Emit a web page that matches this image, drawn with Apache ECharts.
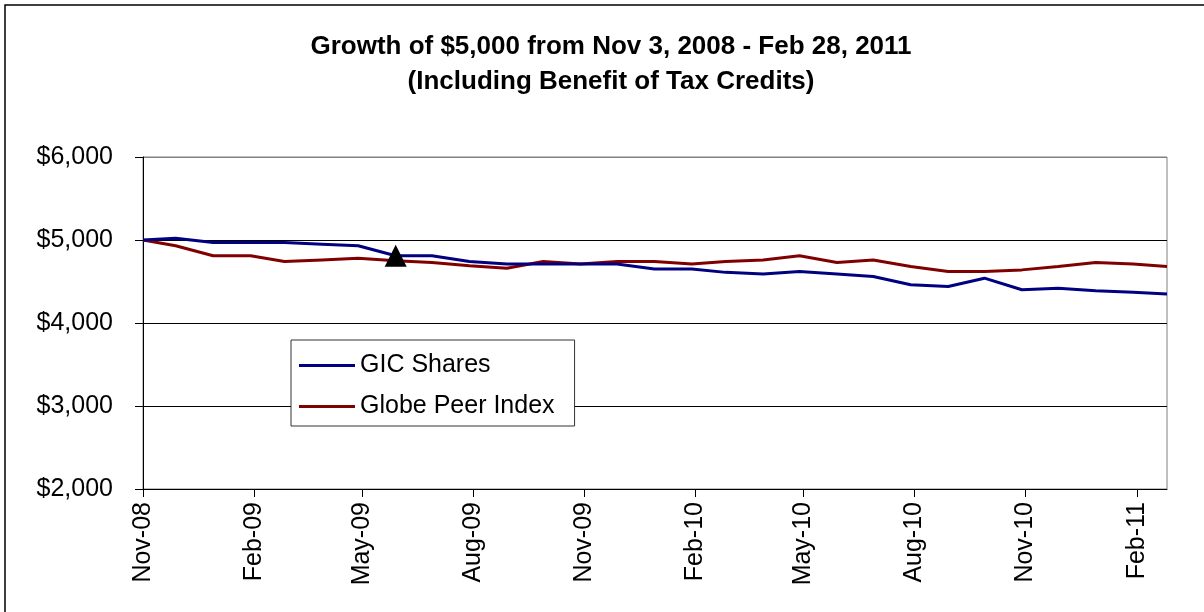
<!DOCTYPE html>
<html>
<head>
<meta charset="utf-8">
<script src="https://cdn.jsdelivr.net/npm/echarts@6/dist/echarts.min.js"></script>
<style>
  html, body { margin: 0; padding: 0; background: #fff; }
  #main { width: 1204px; height: 612px; }
</style>
</head>
<body>
<div id="main"></div>
<script>
// month-end valuation dates
const dates = ['2008-11-03', '2008-11-30', '2008-12-31', '2009-01-31', '2009-02-28', '2009-03-31',
  '2009-04-30', '2009-05-31', '2009-06-30', '2009-07-31', '2009-08-31', '2009-09-30', '2009-10-31',
  '2009-11-30', '2009-12-31', '2010-01-31', '2010-02-28', '2010-03-31', '2010-04-30', '2010-05-31',
  '2010-06-30', '2010-07-31', '2010-08-31', '2010-09-30', '2010-10-31', '2010-11-30', '2010-12-31',
  '2011-01-31', '2011-02-28'];
const gicShares = [5000, 5020, 4970, 4970, 4970, 4950, 4930, 4810, 4810, 4740, 4710, 4710, 4710,
  4710, 4650, 4650, 4610, 4590, 4620, 4590, 4560, 4460, 4440, 4540, 4400, 4420, 4390, 4370, 4350];
const globePeer = [5000, 4930, 4810, 4810, 4740, 4760, 4780, 4750, 4730, 4690, 4660, 4740, 4710,
  4740, 4740, 4710, 4740, 4760, 4810, 4730, 4760, 4680, 4620, 4620, 4640, 4680, 4730, 4710, 4680];
// tick label dates (every 3 months)
const tickDates = ['2008-11-03', '2009-02-03', '2009-05-03', '2009-08-03', '2009-11-03',
  '2010-02-03', '2010-05-03', '2010-08-03', '2010-11-03', '2011-02-03'];
const markerIndex = 7;

const monthNames = ['Jan', 'Feb', 'Mar', 'Apr', 'May', 'Jun', 'Jul', 'Aug', 'Sep', 'Oct', 'Nov', 'Dec'];
const toTime = (s) => { const p = s.split('-'); return new Date(+p[0], +p[1] - 1, +p[2]).getTime(); };
const font = "'Liberation Sans', Arial, sans-serif";

const chart = echarts.init(document.getElementById('main'));
const option = {
  animation: false,
  title: {
    text: 'Growth of $5,000 from Nov 3, 2008 - Feb 28, 2011\n(Including Benefit of Tax Credits)',
    left: 611,
    top: 29,
    padding: 0,
    textAlign: 'center',
    textStyle: { fontFamily: font, fontSize: 26, fontWeight: 'bold', color: '#000', lineHeight: 35 }
  },
  graphic: [{
    type: 'rect',
    shape: { x: 5, y: 5, width: 1220, height: 640 },
    style: { fill: 'none', stroke: '#000', lineWidth: 1.5 },
    silent: true
  }],
  legend: {
    orient: 'vertical',
    left: 291,
    top: 340,
    padding: [13, 20, 7, 8],
    itemGap: 16,
    itemWidth: 56,
    itemHeight: 3,
    backgroundColor: '#fff',
    borderColor: '#333',
    borderWidth: 1,
    borderRadius: 0,
    textStyle: { fontFamily: font, fontSize: 25, color: '#000', lineHeight: 25 },
    data: [{ name: 'GIC Shares', icon: 'rect' }, { name: 'Globe Peer Index', icon: 'rect' }]
  },
  grid: { left: 143, right: 37, top: 157, bottom: 123, show: true, borderColor: '#808080', borderWidth: 1 },
  xAxis: {
    type: 'value',
    min: toTime(dates[0]),
    max: toTime(dates[dates.length - 1]),
    axisLine: { lineStyle: { color: '#000', width: 1 } },
    axisTick: { show: true, length: 8, lineStyle: { color: '#000' }, customValues: tickDates.map(toTime) },
    splitLine: { show: false },
    axisLabel: {
      customValues: tickDates.map(toTime),
      rotate: 90,
      margin: 13,
      fontFamily: font,
      fontSize: 25,
      color: '#000',
      formatter: (v) => {
        const d = new Date(v);
        return monthNames[d.getMonth()] + '-' + String(d.getFullYear()).slice(2);
      }
    }
  },
  yAxis: {
    type: 'value',
    min: 2000,
    max: 6000,
    interval: 1000,
    axisLine: { show: true, lineStyle: { color: '#000', width: 1 } },
    axisTick: { show: true, length: 8, lineStyle: { color: '#000' } },
    splitLine: { show: true, lineStyle: { color: ['#000', '#000', '#000', '#000', '#808080'], width: 1 } },
    axisLabel: {
      margin: 30,
      fontFamily: font,
      fontSize: 25,
      color: '#000',
      formatter: (v) => '$' + v.toLocaleString('en-US')
    }
  },
  series: [
    {
      name: 'GIC Shares',
      type: 'line',
      symbol: 'none',
      lineStyle: { color: '#000080', width: 3 },
      itemStyle: { color: '#000080' },
      data: dates.map((d, i) => [toTime(d), gicShares[i]]),
      markPoint: {
        symbol: 'triangle',
        symbolSize: [22, 22],
        itemStyle: { color: '#000' },
        label: { show: false },
        data: [{ coord: [toTime(dates[markerIndex]), gicShares[markerIndex]] }]
      },
      z: 3
    },
    {
      name: 'Globe Peer Index',
      type: 'line',
      symbol: 'none',
      lineStyle: { color: '#800000', width: 3 },
      itemStyle: { color: '#800000' },
      data: dates.map((d, i) => [toTime(d), globePeer[i]]),
      z: 2
    }
  ]
};
chart.setOption(option);
window.addEventListener('resize', function () {
  chart.resize();
});
</script>
</body>
</html>
